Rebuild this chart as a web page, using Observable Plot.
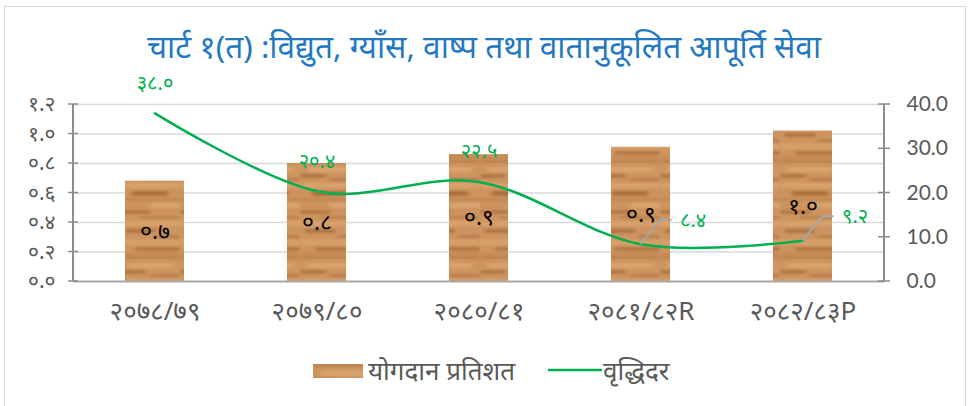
<!DOCTYPE html>
<html><head><meta charset="utf-8">
<script src="https://cdn.jsdelivr.net/npm/d3@7"></script>
<script src="https://cdn.jsdelivr.net/npm/@observablehq/plot@0.6"></script>
<style>
body{margin:0;background:#fff;}
#wrap{position:relative;width:968px;height:406px;overflow:hidden;font-family:"Noto Sans",sans-serif;background:#fff;}
#border{position:absolute;left:4px;top:6px;width:962px;height:420px;border:1.5px solid #d9d9d9;box-sizing:border-box;}
#title{position:absolute;left:0;top:26px;width:968px;text-align:center;color:#2378C3;font-size:31.6px;line-height:40px;white-space:nowrap;}
#chart{position:absolute;left:0;top:64px;}
.lg{position:absolute;color:#595959;font-size:26px;line-height:32px;white-space:nowrap;}
</style></head>
<body><div id="wrap"><div id="border"></div>
<div id="title">चार्ट १(त) :विद्युत, ग्याँस, वाष्प तथा वातानुकूलित आपूर्ति सेवा</div>
<div id="chart"></div>
<svg id="lgwood" style="position:absolute;left:313px;top:364px" width="50" height="14"></svg>
<div class="lg" style="left:368px;top:354px">योगदान प्रतिशत</div>
<svg style="position:absolute;left:548px;top:368px" width="54" height="4"><line x1="0" x2="54" y1="2" y2="2" stroke="#00B050" stroke-width="2.5"/></svg>
<div class="lg" style="left:603px;top:354px">वृद्धिदर</div>
</div>
<script>
// ---- data ----
const years = ["२०७८/७९", "२०७९/८०", "२०८०/८१", "२०८१/८२R", "२०८२/८३P"];
const share = [0.68, 0.80, 0.86, 0.91, 1.02];      // योगदान प्रतिशत (left axis)
const growth = [38.0, 20.4, 22.5, 8.4, 9.2];        // वृद्धिदर (right axis)
const leftTicks = [0, 0.2, 0.4, 0.6, 0.8, 1.0, 1.2];
const rightTicks = [0, 10, 20, 30, 40];

const devaDigits = "०१२३४५६७८९";
const deva = s => String(s).replace(/[0-9]/g, d => devaDigits[+d]);
const k = 1.2 / 40; // right-axis units -> left-axis units

const data = years.map((y, i) => ({year: y, share: share[i], growth: growth[i], i}));

function woodPattern(sel, id) {
  const defs = sel.append("defs");
  const f = defs.append("filter").attr("id", id + "blur").attr("x", "-10%").attr("y", "-50%").attr("width", "120%").attr("height", "200%");
  f.append("feGaussianBlur").attr("stdDeviation", "2 1.1");
  const p = defs.append("pattern").attr("id", id).attr("patternUnits", "userSpaceOnUse")
    .attr("width", 60).attr("height", 96);
  p.append("rect").attr("width", 60).attr("height", 96).attr("fill", "#CD9460");
  const g = p.append("g").attr("filter", `url(#${id}blur)`);
  const streaks = [
    [0, 3, 0, 60, "#B57A47", 0.7], [7, 5, 8, 44, "#DDA872", 0.8], [14, 4, 0, 25, "#A46A38", 0.7],
    [18, 3, 30, 30, "#B07443", 0.7], [23, 5, 0, 60, "#DCA671", 0.7], [31, 5, 12, 36, "#A0662F", 0.75],
    [38, 3, 0, 60, "#BA7F4B", 0.6], [43, 5, 30, 30, "#DEAA75", 0.7], [50, 4, 0, 30, "#A96E3C", 0.7],
    [56, 3, 20, 40, "#B97E4A", 0.7], [61, 5, 0, 60, "#DBA570", 0.7], [69, 4, 5, 30, "#A36937", 0.7],
    [75, 3, 38, 22, "#AE7341", 0.7], [80, 5, 0, 60, "#DDA873", 0.6], [87, 4, 15, 45, "#A86D3B", 0.7],
    [93, 3, 0, 60, "#BC814D", 0.6]
  ];
  for (const [y, h, x, w, c, o] of streaks)
    g.append("rect").attr("x", x).attr("y", y).attr("width", w).attr("height", h).attr("fill", c).attr("opacity", o);
}

const axisGray = "#8c8c8c";
const axisLines = (index, scales, values, dims) => {
  const g = d3.create("svg:g");
  const sy = scales.y;
  const x0 = dims.marginLeft, x1 = dims.width - dims.marginRight;
  const yTop = sy(1.2), yBot = sy(0);
  for (const x of [x0, x1])
    g.append("line").attr("x1", x).attr("x2", x).attr("y1", yTop).attr("y2", yBot)
      .attr("stroke", axisGray).attr("stroke-width", 2);
  for (const t of leftTicks)
    g.append("line").attr("x1", x0 - 5).attr("x2", x0 + 5).attr("y1", sy(t)).attr("y2", sy(t))
      .attr("stroke", axisGray).attr("stroke-width", 1.5);
  for (const t of rightTicks)
    g.append("line").attr("x1", x1 - 6).attr("x2", x1 + 6).attr("y1", sy(t * k)).attr("y2", sy(t * k))
      .attr("stroke", axisGray).attr("stroke-width", 1.5);
  return g.node();
};

const leaders = (index, scales) => {
  const g = d3.create("svg:g");
  const sx = scales.x, sy = scales.y;
  const bw = typeof sx.bandwidth === "function" ? sx.bandwidth() : 0;
  for (const d of data.slice(3)) {
    const px = sx(d.year) + bw / 2, py = sy(d.growth * k);
    const ly = py - 24;
    g.append("path").attr("d", `M${px},${py}L${px + 20},${ly}L${px + 31},${ly}`)
      .attr("fill", "none").attr("stroke", "#a6a6a6").attr("stroke-width", 2);
  }
  return g.node();
};

const plot = Plot.plot({
  width: 968, height: 276,
  marginTop: 40, marginBottom: 59, marginLeft: 73, marginRight: 84,
  x: {domain: years, paddingInner: 0.636, paddingOuter: 0.318, axis: null},
  y: {domain: [0, 1.2], axis: null},
  style: {fontFamily: "'Noto Sans', sans-serif", background: "transparent", overflow: "visible"},
  marks: [
    Plot.ruleY(leftTicks.filter(t => t > 0), {stroke: "#d9d9d9", strokeWidth: 1.5}),
    Plot.barY(data, {x: "year", y: "share", fill: "url(#wood)"}),
    Plot.ruleY([0], {stroke: "#a6a6a6", strokeWidth: 2}),
    axisLines,
    Plot.axisX(years, {anchor: "bottom", tickSize: 0, tickPadding: 20, fontSize: 26, fill: "#595959", label: null,
      style: "letter-spacing:2px"}),
    Plot.axisY(leftTicks, {anchor: "left", tickSize: 0, tickPadding: 18, fontSize: 21, fill: "#595959", label: null,
      tickFormat: d => deva(d.toFixed(1))}),
    Plot.axisY(rightTicks.map(t => t * k), {anchor: "right", tickSize: 0, tickPadding: 22, fontSize: 21, label: null,
      fill: "#595959", fontFamily: "Lato", tickFormat: d => (d / k).toFixed(1)}),
    Plot.text(data, {x: "year", y: d => d.share / 2, text: d => deva(d.share.toFixed(1)), fill: "#000", fontSize: 23}),
    Plot.line(data, {x: "year", y: d => d.growth * k, stroke: "#00B050", strokeWidth: 2.5, curve: "cardinal"}),
    leaders,
    Plot.text(data.slice(0, 3), {x: "year", y: d => d.growth * k, text: d => deva(d.growth.toFixed(1)),
      dy: -30, fill: "#00B050", fontSize: 20}),
    Plot.text(data.slice(3), {x: "year", y: d => d.growth * k, text: d => deva(d.growth.toFixed(1)),
      dx: 39, dy: -24, textAnchor: "start", fill: "#00B050", fontSize: 20})
  ]
});
woodPattern(d3.select(plot), "wood");
document.getElementById("chart").appendChild(plot);
const lg = d3.select("#lgwood");
woodPattern(lg, "woodlg");
lg.append("rect").attr("width", 50).attr("height", 14).attr("fill", "url(#woodlg)");
</script>
</body></html>
